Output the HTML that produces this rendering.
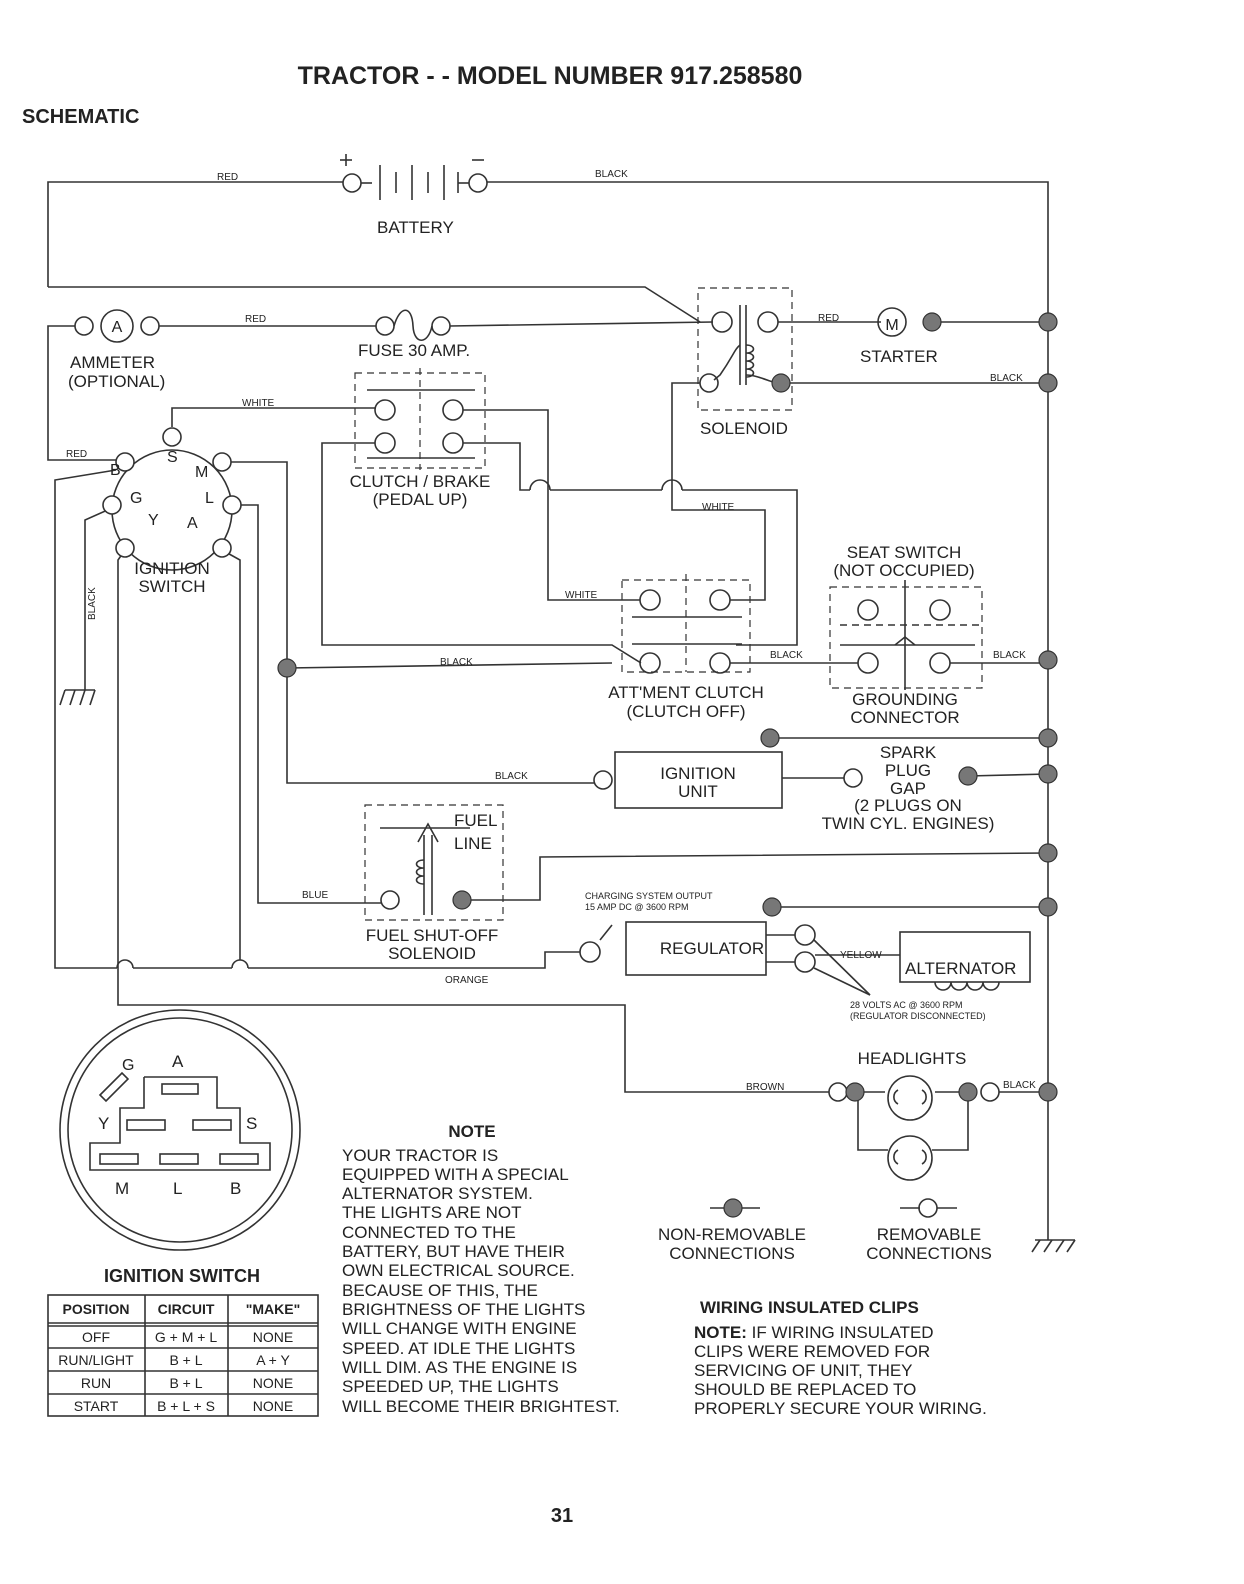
<!DOCTYPE html>
<html><head><meta charset="utf-8"><style>
html,body{margin:0;padding:0;background:#fff;}
svg{display:block;}
text{font-family:"Liberation Sans",Arial,sans-serif;fill:#222;}
</style></head><body>
<svg width="1244" height="1584" viewBox="0 0 1244 1584" xmlns="http://www.w3.org/2000/svg">
<g stroke="#333" stroke-width="1.6" fill="none">
<!-- battery -->
<polyline points="48,287 48,182 343,182"/>
<circle cx="352" cy="183" r="9"/>
<line x1="361" y1="183" x2="372" y2="183"/>
<line x1="380" y1="165" x2="380" y2="200"/><line x1="396" y1="172" x2="396" y2="193"/>
<line x1="412" y1="165" x2="412" y2="200"/><line x1="428" y1="172" x2="428" y2="193"/>
<line x1="444" y1="165" x2="444" y2="200"/><line x1="458" y1="172" x2="458" y2="193"/>
<line x1="458" y1="183" x2="469" y2="183"/>
<circle cx="478" cy="183" r="9"/>
<polyline points="487,182 1048,182 1048,1240"/>
<line x1="340" y1="160" x2="352" y2="160"/><line x1="346" y1="154" x2="346" y2="166"/>
<line x1="472" y1="160" x2="484" y2="160"/>
<!-- left to solenoid -->
<polyline points="48,287 645,287 700,322"/>
<!-- ammeter -->
<circle cx="117" cy="326" r="16"/><circle cx="84" cy="326" r="9"/><circle cx="150" cy="326" r="9"/>
<polyline points="75,326 48,326 48,460 116,460"/>
<line x1="159" y1="326" x2="376" y2="326"/>
<circle cx="385" cy="326" r="9"/><circle cx="441" cy="326" r="9"/>
<path d="M394,326 C400,305 412,305 413,326 C414,345 428,345 432,326"/>
<line x1="450" y1="326" x2="713" y2="322"/>
<!-- solenoid -->
<rect x="698" y="288" width="94" height="122" stroke-dasharray="7,5" stroke-width="1.2"/>
<circle cx="722" cy="322" r="10"/><circle cx="768" cy="322" r="10"/>
<circle cx="709" cy="383" r="9"/>
<line x1="740" y1="305" x2="740" y2="385"/><line x1="746" y1="305" x2="746" y2="385"/>
<path d="M746,345 c10,0 10,8 0,8 c10,0 10,8 0,8 c10,0 10,8 0,8 c10,0 10,8 0,8"/>
<path d="M740,345 c-6,5 -6,10 -20,30 L714,380"/>
<line x1="778" y1="322" x2="881" y2="322"/>
<circle cx="892" cy="322" r="14"/>
<line x1="938" y1="322" x2="1048" y2="322"/>
<line x1="790" y1="383" x2="1048" y2="383"/>
<path d="M746,375 c10,0 20,5 30,8"/>
<!-- ignition switch -->
<circle cx="172" cy="510" r="60"/>
<!-- white wire -->
<polyline points="172,427 172,408 376,408"/>
<!-- clutch brake -->
<rect x="355" y="373" width="130" height="95" stroke-dasharray="7,5" stroke-width="1.2"/>
<line x1="367" y1="390" x2="475" y2="390"/><line x1="420" y1="368" x2="420" y2="470" stroke-dasharray="7,5" stroke-width="1.2"/>
<line x1="367" y1="458" x2="475" y2="458"/>
<circle cx="385" cy="410" r="10"/><circle cx="453" cy="410" r="10"/>
<circle cx="385" cy="443" r="10"/><circle cx="453" cy="443" r="10"/>
<polyline points="463,410 548,410 548,600 640,600"/>
<polyline points="375,443 322,443 322,645 612,645 641,663"/>
<polyline points="463,443 520,443 520,490 530,490"/>
<path d="M530,490 a10,10 0 0 1 20,0"/>
<line x1="550" y1="490" x2="662" y2="490"/>
<path d="M662,490 a10,10 0 0 1 20,0"/>
<polyline points="682,490 797,490 797,645 736,645"/>
<polyline points="700,383 672,383 672,510 765,510 765,600 730,600"/>
<!-- attachment clutch -->
<rect x="622" y="580" width="128" height="92" stroke-dasharray="7,5" stroke-width="1.2"/>
<line x1="686" y1="574" x2="686" y2="672" stroke-dasharray="7,5" stroke-width="1.2"/>
<line x1="632" y1="617" x2="742" y2="617"/><line x1="632" y1="644" x2="742" y2="644"/>
<circle cx="650" cy="600" r="10"/><circle cx="720" cy="600" r="10"/>
<circle cx="650" cy="663" r="10"/><circle cx="720" cy="663" r="10"/>
<line x1="730" y1="663" x2="858" y2="663"/>
<!-- seat switch -->
<rect x="830" y="587" width="152" height="101" stroke-dasharray="7,5" stroke-width="1.2"/>
<line x1="905" y1="580" x2="905" y2="690"/>
<line x1="840" y1="625" x2="980" y2="625" stroke-dasharray="7,5"/>
<line x1="840" y1="645" x2="975" y2="645"/>
<circle cx="868" cy="610" r="10"/><circle cx="940" cy="610" r="10"/>
<circle cx="868" cy="663" r="10"/><circle cx="940" cy="663" r="10"/>
<path d="M895,645 l10,-8 l10,8"/>
<line x1="950" y1="663" x2="1048" y2="663"/>
<!-- M terminal / black -->
<polyline points="230,462 287,462 287,783 594,783"/>
<line x1="287" y1="668" x2="612" y2="663"/>
<circle cx="603" cy="780" r="9"/>
<rect x="615" y="752" width="167" height="56"/>
<line x1="782" y1="778" x2="844" y2="778"/>
<circle cx="853" cy="778" r="9"/>
<line x1="968" y1="776" x2="1048" y2="774"/>
<line x1="770" y1="738" x2="1048" y2="738"/>
<!-- fuel -->
<rect x="365" y="805" width="138" height="115" stroke-dasharray="7,5" stroke-width="1.2"/>
<line x1="380" y1="828" x2="470" y2="828"/>
<line x1="424" y1="835" x2="424" y2="915"/><line x1="432" y1="835" x2="432" y2="915"/>
<path d="M418,842 l10,-18 l10,18"/>
<path d="M424,860 c-10,0 -10,8 0,8 c-10,0 -10,8 0,8 c-10,0 -10,8 0,8"/>
<polyline points="240,505 258,505 258,903 381,903"/>
<circle cx="390" cy="900" r="9"/>
<polyline points="462,900 540,900 540,857 1048,853"/>
<line x1="772" y1="907" x2="1048" y2="907"/>
<!-- regulator -->
<rect x="626" y="922" width="140" height="53"/>
<circle cx="590" cy="952" r="10"/>
<line x1="600" y1="940" x2="612" y2="925"/>
<circle cx="805" cy="935" r="10"/><circle cx="805" cy="962" r="10"/>
<line x1="766" y1="935" x2="795" y2="935"/><line x1="766" y1="962" x2="795" y2="962"/>
<polyline points="815,955 900,955"/>
<rect x="900" y="932" width="130" height="50"/>
<path d="M935,982 a8,8 0 0 0 16,0 a8,8 0 0 0 16,0 a8,8 0 0 0 16,0 a8,8 0 0 0 16,0"/>
<line x1="814" y1="940" x2="870" y2="995"/><line x1="814" y1="968" x2="870" y2="995"/>
<polyline points="580,952 545,952 545,968 248,968"/>
<path d="M248,968 a8,8 0 0 0 -16,0"/>
<polyline points="232,968 133,968"/>
<path d="M133,968 a8,8 0 0 0 -16,0"/>
<polyline points="117,968 55,968 55,480 116,470"/>
<polyline points="125,550 118,560 118,1005 625,1005 625,1092 829,1092"/>
<polyline points="222,550 240,560 240,960"/>
<polyline points="112,508 85,520 85,690"/>
<line x1="65" y1="690" x2="95" y2="690"/><line x1="65" y1="690" x2="60" y2="705"/><line x1="75" y1="690" x2="70" y2="705"/><line x1="85" y1="690" x2="80" y2="705"/><line x1="95" y1="690" x2="90" y2="705"/>
<!-- headlights -->
<circle cx="838" cy="1092" r="9"/>
<line x1="864" y1="1092" x2="885" y2="1092"/>
<circle cx="910" cy="1098" r="22"/><circle cx="910" cy="1158" r="22"/>
<path d="M898,1104 a8,8 0 0 1 0,-14 M922,1104 a8,8 0 0 0 0,-14"/>
<path d="M898,1164 a8,8 0 0 1 0,-14 M922,1164 a8,8 0 0 0 0,-14"/>
<line x1="935" y1="1092" x2="960" y2="1092"/>
<circle cx="990" cy="1092" r="9"/>
<line x1="999" y1="1092" x2="1048" y2="1092"/>
<polyline points="858,1100 858,1150 888,1150"/>
<polyline points="968,1100 968,1150 932,1150"/>
<!-- ground right -->
<line x1="1035" y1="1240" x2="1075" y2="1240"/><line x1="1040" y1="1240" x2="1032" y2="1252"/><line x1="1052" y1="1240" x2="1044" y2="1252"/><line x1="1064" y1="1240" x2="1056" y2="1252"/><line x1="1075" y1="1240" x2="1067" y2="1252"/>
<!-- legend -->
<line x1="710" y1="1208" x2="760" y2="1208"/>
<line x1="900" y1="1208" x2="920" y2="1208"/><circle cx="928" cy="1208" r="9"/><line x1="937" y1="1208" x2="957" y2="1208"/>
<!-- ignition switch diagram -->
<circle cx="180" cy="1130" r="120"/><circle cx="180" cy="1130" r="112"/>
<polyline points="144,1077 144,1108 120,1108 120,1143 90,1143 90,1170 270,1170 270,1143 240,1143 240,1108 217,1108 217,1077 144,1077"/>
<rect x="162" y="1084" width="36" height="10"/>
<rect x="127" y="1120" width="38" height="10"/><rect x="193" y="1120" width="38" height="10"/>
<rect x="100" y="1154" width="38" height="10"/><rect x="160" y="1154" width="38" height="10"/><rect x="220" y="1154" width="38" height="10"/>
<path d="M100,1095 l22,-22 l6,6 l-22,22 z"/>
<!-- table -->
<rect x="48" y="1295" width="270" height="121"/>
<line x1="48" y1="1323" x2="318" y2="1323"/><line x1="48" y1="1326" x2="318" y2="1326"/>
<line x1="48" y1="1348" x2="318" y2="1348"/><line x1="48" y1="1371" x2="318" y2="1371"/><line x1="48" y1="1394" x2="318" y2="1394"/>
<line x1="145" y1="1295" x2="145" y2="1416"/><line x1="228" y1="1295" x2="228" y2="1416"/>
</g>
<!-- filled dots -->
<g fill="#777" stroke="#333" stroke-width="1.2">
<circle cx="781" cy="383" r="9"/><circle cx="932" cy="322" r="9"/>
<circle cx="1048" cy="322" r="9"/><circle cx="1048" cy="383" r="9"/><circle cx="1048" cy="660" r="9"/>
<circle cx="1048" cy="738" r="9"/><circle cx="1048" cy="774" r="9"/><circle cx="1048" cy="853" r="9"/>
<circle cx="1048" cy="907" r="9"/><circle cx="1048" cy="1092" r="9"/>
<circle cx="287" cy="668" r="9"/><circle cx="770" cy="738" r="9"/><circle cx="968" cy="776" r="9"/>
<circle cx="462" cy="900" r="9"/><circle cx="772" cy="907" r="9"/>
<circle cx="855" cy="1092" r="9"/><circle cx="968" cy="1092" r="9"/><circle cx="733" cy="1208" r="9"/>
</g>
<g fill="#fff" stroke="#333" stroke-width="1.6">
<circle cx="172" cy="437" r="9"/><circle cx="125" cy="462" r="9"/><circle cx="222" cy="462" r="9"/>
<circle cx="112" cy="505" r="9"/><circle cx="232" cy="505" r="9"/><circle cx="125" cy="548" r="9"/><circle cx="222" cy="548" r="9"/>
</g>
<!-- text -->
<text x="550" y="84" font-size="25" font-weight="bold" text-anchor="middle">TRACTOR - - MODEL NUMBER 917.258580</text>
<text x="22" y="123" font-size="20" font-weight="bold">SCHEMATIC</text>
<g font-size="10">
<text x="217" y="180">RED</text><text x="595" y="177">BLACK</text>
<text x="245" y="322">RED</text><text x="818" y="321">RED</text><text x="990" y="381">BLACK</text>
<text x="242" y="406">WHITE</text><text x="66" y="457">RED</text>
<text x="702" y="510">WHITE</text><text x="565" y="598">WHITE</text>
<text x="440" y="665">BLACK</text><text x="770" y="658">BLACK</text><text x="993" y="658">BLACK</text>
<text x="495" y="779">BLACK</text><text x="302" y="898">BLUE</text>
<text x="840" y="958">YELLOW</text><text x="445" y="983">ORANGE</text>
<text x="746" y="1090">BROWN</text><text x="1003" y="1088">BLACK</text>
<text x="95" y="620" transform="rotate(-90 95 620)">BLACK</text>
<text x="585" y="899" font-size="9">CHARGING SYSTEM OUTPUT</text>
<text x="585" y="910" font-size="9">15 AMP DC @ 3600 RPM</text>
<text x="850" y="1008" font-size="9">28 VOLTS AC @ 3600 RPM</text>
<text x="850" y="1019" font-size="9">(REGULATOR DISCONNECTED)</text>
</g>
<g font-size="17">
<text x="377" y="233">BATTERY</text>
<text x="70" y="368">AMMETER</text><text x="68" y="387">(OPTIONAL)</text>
<text x="358" y="356">FUSE 30 AMP.</text>
<text x="860" y="362">STARTER</text>
<text x="700" y="434">SOLENOID</text>
<text x="110" y="475" font-size="16">B</text><text x="167" y="462" font-size="16">S</text><text x="195" y="477" font-size="16">M</text>
<text x="130" y="503" font-size="16">G</text><text x="205" y="503" font-size="16">L</text>
<text x="148" y="525" font-size="16">Y</text><text x="187" y="528" font-size="16">A</text>
<text x="172" y="574" text-anchor="middle">IGNITION</text><text x="172" y="592" text-anchor="middle">SWITCH</text>
<text x="420" y="487" text-anchor="middle">CLUTCH / BRAKE</text><text x="420" y="505" text-anchor="middle">(PEDAL UP)</text>
<text x="904" y="558" text-anchor="middle">SEAT SWITCH</text><text x="904" y="576" text-anchor="middle">(NOT OCCUPIED)</text>
<text x="686" y="698" text-anchor="middle">ATT'MENT CLUTCH</text><text x="686" y="717" text-anchor="middle">(CLUTCH OFF)</text>
<text x="905" y="705" text-anchor="middle">GROUNDING</text><text x="905" y="723" text-anchor="middle">CONNECTOR</text>
<text x="698" y="779" text-anchor="middle">IGNITION</text><text x="698" y="797" text-anchor="middle">UNIT</text>
<text x="908" y="758" text-anchor="middle">SPARK</text><text x="908" y="776" text-anchor="middle">PLUG</text><text x="908" y="794" text-anchor="middle">GAP</text>
<text x="908" y="811" text-anchor="middle">(2 PLUGS ON</text><text x="908" y="829" text-anchor="middle">TWIN CYL. ENGINES)</text>
<text x="454" y="826">FUEL</text><text x="454" y="849">LINE</text>
<text x="432" y="941" text-anchor="middle">FUEL SHUT-OFF</text><text x="432" y="959" text-anchor="middle">SOLENOID</text>
<text x="712" y="954" text-anchor="middle">REGULATOR</text>
<text x="905" y="974">ALTERNATOR</text>
<text x="912" y="1064" text-anchor="middle">HEADLIGHTS</text>
<text x="172" y="1067">A</text><text x="122" y="1070" font-size="16">G</text>
<text x="98" y="1129">Y</text><text x="246" y="1129">S</text>
<text x="115" y="1194">M</text><text x="173" y="1194">L</text><text x="230" y="1194">B</text>
<text x="472" y="1137" font-weight="bold" text-anchor="middle">NOTE</text>
<text x="342" y="1161">YOUR TRACTOR IS</text>
<text x="342" y="1180">EQUIPPED WITH A SPECIAL</text>
<text x="342" y="1199">ALTERNATOR SYSTEM.</text>
<text x="342" y="1218">THE LIGHTS ARE NOT</text>
<text x="342" y="1238">CONNECTED TO THE</text>
<text x="342" y="1257">BATTERY, BUT HAVE THEIR</text>
<text x="342" y="1276">OWN ELECTRICAL SOURCE.</text>
<text x="342" y="1296">BECAUSE OF THIS, THE</text>
<text x="342" y="1315">BRIGHTNESS OF THE LIGHTS</text>
<text x="342" y="1334">WILL CHANGE WITH ENGINE</text>
<text x="342" y="1354">SPEED.  AT IDLE THE LIGHTS</text>
<text x="342" y="1373">WILL DIM.  AS THE ENGINE IS</text>
<text x="342" y="1392">SPEEDED UP, THE LIGHTS</text>
<text x="342" y="1412">WILL BECOME THEIR BRIGHTEST.</text>
<text x="732" y="1240" text-anchor="middle">NON-REMOVABLE</text><text x="732" y="1259" text-anchor="middle">CONNECTIONS</text>
<text x="929" y="1240" text-anchor="middle">REMOVABLE</text><text x="929" y="1259" text-anchor="middle">CONNECTIONS</text>
<text x="700" y="1313" font-weight="bold">WIRING INSULATED CLIPS</text>
<text x="694" y="1338"><tspan font-weight="bold">NOTE:</tspan> IF WIRING INSULATED</text>
<text x="694" y="1357">CLIPS WERE REMOVED FOR</text>
<text x="694" y="1376">SERVICING OF UNIT, THEY</text>
<text x="694" y="1395">SHOULD BE REPLACED TO</text>
<text x="694" y="1414">PROPERLY SECURE YOUR WIRING.</text>
<text x="182" y="1282" font-weight="bold" text-anchor="middle" font-size="18">IGNITION SWITCH</text>
</g>
<g font-size="14" text-anchor="middle">
<text x="96" y="1314" font-weight="bold">POSITION</text><text x="186" y="1314" font-weight="bold">CIRCUIT</text><text x="273" y="1314" font-weight="bold">"MAKE"</text>
<text x="96" y="1342">OFF</text><text x="186" y="1342">G + M + L</text><text x="273" y="1342">NONE</text>
<text x="96" y="1365">RUN/LIGHT</text><text x="186" y="1365">B + L</text><text x="273" y="1365">A + Y</text>
<text x="96" y="1388">RUN</text><text x="186" y="1388">B + L</text><text x="273" y="1388">NONE</text>
<text x="96" y="1411">START</text><text x="186" y="1411">B + L + S</text><text x="273" y="1411">NONE</text>
</g>
<text x="562" y="1522" font-size="20" font-weight="bold" text-anchor="middle">31</text>
<text x="892" y="330" font-size="16" text-anchor="middle">M</text>
<text x="117" y="332" font-size="16" text-anchor="middle">A</text>
</svg>
</body></html>
